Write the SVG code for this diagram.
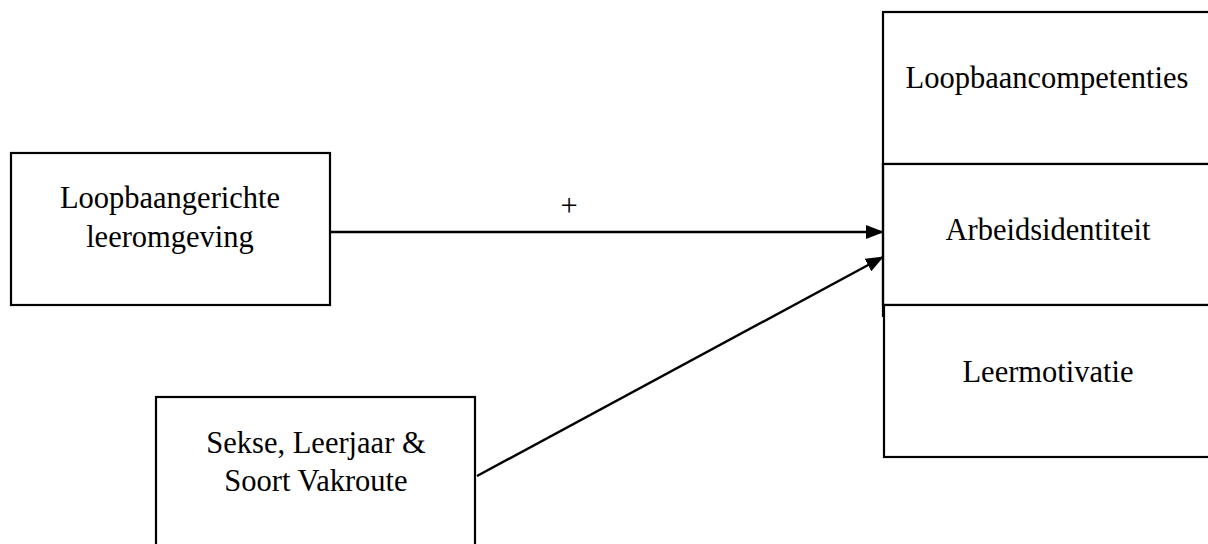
<svg xmlns="http://www.w3.org/2000/svg" width="1208" height="544" viewBox="0 0 1208 544">
<style>
.box{fill:#fff;stroke:#000;stroke-width:2.2}
.t{font-family:"Liberation Serif","Times New Roman",serif;font-size:30.5px;fill:#000;text-anchor:middle}
.c{stroke:#000;stroke-width:2.4;fill:none}
</style>
<defs>
<marker id="ah" markerWidth="18" markerHeight="14" refX="17" refY="7" orient="auto" markerUnits="userSpaceOnUse">
<path d="M0,0 L18,7 L0,14 Z" fill="#000"/>
</marker>
</defs>
<rect width="1208" height="544" fill="#fff"/>
<g id="n-loopbaancompetenties">
<rect class="box" x="883" y="12" width="340" height="152"/>
<text class="t" x="1047" y="88">Loopbaancompetenties</text>
</g>
<g id="n-arbeidsidentiteit">
<rect class="box" x="883" y="164" width="340" height="141"/>
<line x1="883" y1="164" x2="883" y2="317" stroke="#000" stroke-width="2.2"/>
<text class="t" x="1048" y="240">Arbeidsidentiteit</text>
</g>
<g id="n-leermotivatie">
<rect class="box" x="884" y="305" width="340" height="152"/>
<text class="t" x="1048" y="382">Leermotivatie</text>
</g>
<g id="n-leeromgeving">
<rect class="box" x="11" y="153" width="319" height="152"/>
<text class="t" x="170" y="208">Loopbaangerichte</text>
<text class="t" x="170" y="247">leeromgeving</text>
</g>
<g id="n-sekse">
<rect class="box" x="156" y="397" width="319" height="170"/>
<text class="t" x="316" y="453">Sekse, Leerjaar &amp;</text>
<text class="t" x="316" y="491">Soort Vakroute</text>
</g>
<g id="connectors">
<line class="c" x1="330" y1="232" x2="883" y2="232" marker-end="url(#ah)"/>
<line class="c" x1="477" y1="476" x2="883" y2="257" marker-end="url(#ah)"/>
<text class="t" x="569" y="216">+</text>
</g>
</svg>
